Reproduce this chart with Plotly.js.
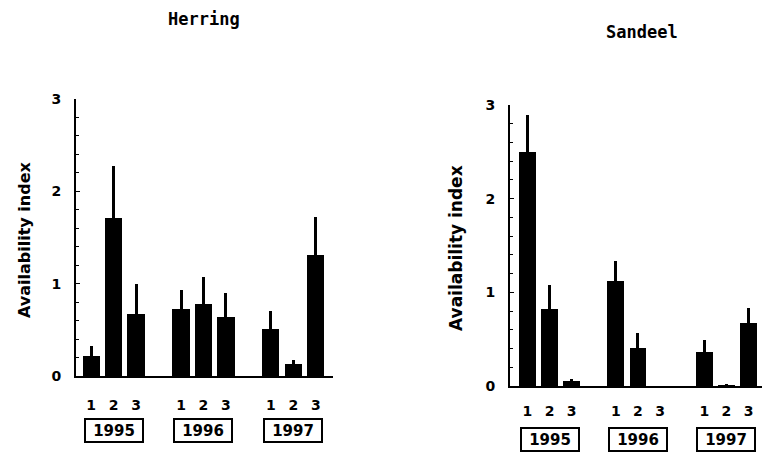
<!DOCTYPE html>
<html>
<head>
<meta charset="utf-8">
<script src="https://cdn.plot.ly/plotly-3.0.1.min.js"></script>
<style>
  html, body { margin: 0; padding: 0; background: #fff; }
  #chart { width: 762px; height: 453px; }
</style>
</head>
<body>
<div id="chart"></div>
<script>
// Sampling periods within each year and the years surveyed
const years = ['1995', '1996', '1997'];
const samples = ['1', '2', '3'];

// Herring availability index (mean) and upper error
const herringMean = [0.22, 1.71, 0.67, 0.73, 0.78, 0.64, 0.51, 0.13, 1.31];
const herringErr  = [0.11, 0.56, 0.33, 0.20, 0.29, 0.26, 0.19, 0.04, 0.41];

// Sandeel availability index (mean) and upper error
const sandeelMean = [2.50, 0.82, 0.05, 1.12, 0.41, 0.00, 0.36, 0.01, 0.67];
const sandeelErr  = [0.39, 0.26, 0.02, 0.21, 0.16, 0.00, 0.13, 0.01, 0.16];

// Bars are grouped by year with a one-slot gap between years
const xPos = [];
const xText = [];
years.forEach((yr, i) => samples.forEach((s, j) => { xPos.push(i * 4 + j); xText.push(s); }));
const zeros = xPos.map(() => 0);

const boldFont = { family: 'DejaVu Sans', size: 14, color: '#000', weight: 'bold' };

function barTrace(means, errs, xa, ya) {
  return {
    type: 'bar', x: xPos, y: means, xaxis: xa, yaxis: ya,
    width: 0.76,
    marker: { color: '#000', line: { width: 0 } },
    error_y: { type: 'data', symmetric: false, array: errs, arrayminus: zeros,
               color: '#000', thickness: 3, width: 0 },
    hoverinfo: 'none', showlegend: false
  };
}

function xAxis(domain, range, standoff) {
  return {
    domain: domain, range: range, showline: true, linecolor: '#000', linewidth: 2,
    tickmode: 'array', tickvals: xPos, ticktext: xText, ticks: '',
    ticklabelstandoff: standoff, tickfont: boldFont,
    showgrid: false, zeroline: false, fixedrange: true
  };
}

function yAxis(domain, anchor) {
  return {
    domain: domain, range: [0, 3], anchor: anchor,
    showline: true, linecolor: '#000', linewidth: 2,
    tickmode: 'linear', tick0: 0, dtick: 1,
    ticks: 'inside', ticklen: 4, tickwidth: 1.5, tickcolor: '#000',
    minor: { dtick: 0.2, ticks: 'inside', ticklen: 3, tickwidth: 1, tickcolor: '#000' },
    ticklabelstandoff: 10, tickfont: boldFont,
    showgrid: false, zeroline: false, fixedrange: true
  };
}

const titleFont = { family: 'DejaVu Sans Mono', size: 17, color: '#000', weight: 'bold' };

const annotations = [
  { text: 'Herring', xref: 'paper', yref: 'paper', x: 204 / 762, y: 1 - 19 / 453,
    showarrow: false, xanchor: 'center', yanchor: 'middle', font: titleFont },
  { text: 'Sandeel', xref: 'paper', yref: 'paper', x: 642 / 762, y: 1 - 32 / 453,
    showarrow: false, xanchor: 'center', yanchor: 'middle', font: titleFont },
  { text: 'Availability index', xref: 'paper', yref: 'paper', x: 24 / 762, y: 1 - 240 / 453,
    textangle: -90, showarrow: false, xanchor: 'center', yanchor: 'middle',
    font: { family: 'DejaVu Sans', size: 16, color: '#000', weight: 'bold' } },
  { text: 'Availability index', xref: 'paper', yref: 'paper', x: 456 / 762, y: 1 - 248 / 453,
    textangle: -90, showarrow: false, xanchor: 'center', yanchor: 'middle',
    font: { family: 'DejaVu Sans', size: 17, color: '#000', weight: 'bold' } }
];

// Boxed year labels under each group of bars
years.forEach((yr, i) => {
  [['x', 1 - 430 / 453], ['x2', 1 - 439.5 / 453]].forEach(([xa, yp]) => {
    annotations.push({
      text: yr, xref: xa, yref: 'paper', x: i * 4 + 1, y: yp,
      showarrow: false, xanchor: 'center', yanchor: 'middle',
      bordercolor: '#000', borderwidth: 2, borderpad: 2, width: 52, height: 17,
      font: { family: 'DejaVu Sans', size: 15, color: '#000', weight: 'bold' }
    });
  });
});

const layout = {
  width: 762, height: 453,
  margin: { l: 0, r: 0, t: 0, b: 0 },
  paper_bgcolor: '#fff', plot_bgcolor: '#fff',
  bargap: 0,
  xaxis: Object.assign(xAxis([76 / 762, 333 / 762], [-0.67, 10.76], 15), { anchor: 'y' }),
  yaxis: yAxis([77 / 453, 354 / 453], 'x'),
  xaxis2: Object.assign(xAxis([510 / 762, 1], [-0.79, 10.61], 11), { anchor: 'y2' }),
  yaxis2: yAxis([67 / 453, 348 / 453], 'x2'),
  annotations: annotations
};

Plotly.newPlot('chart', [
  barTrace(herringMean, herringErr, 'x', 'y'),
  barTrace(sandeelMean, sandeelErr, 'x2', 'y2')
], layout, { displayModeBar: false, staticPlot: true });
</script>
</body>
</html>
